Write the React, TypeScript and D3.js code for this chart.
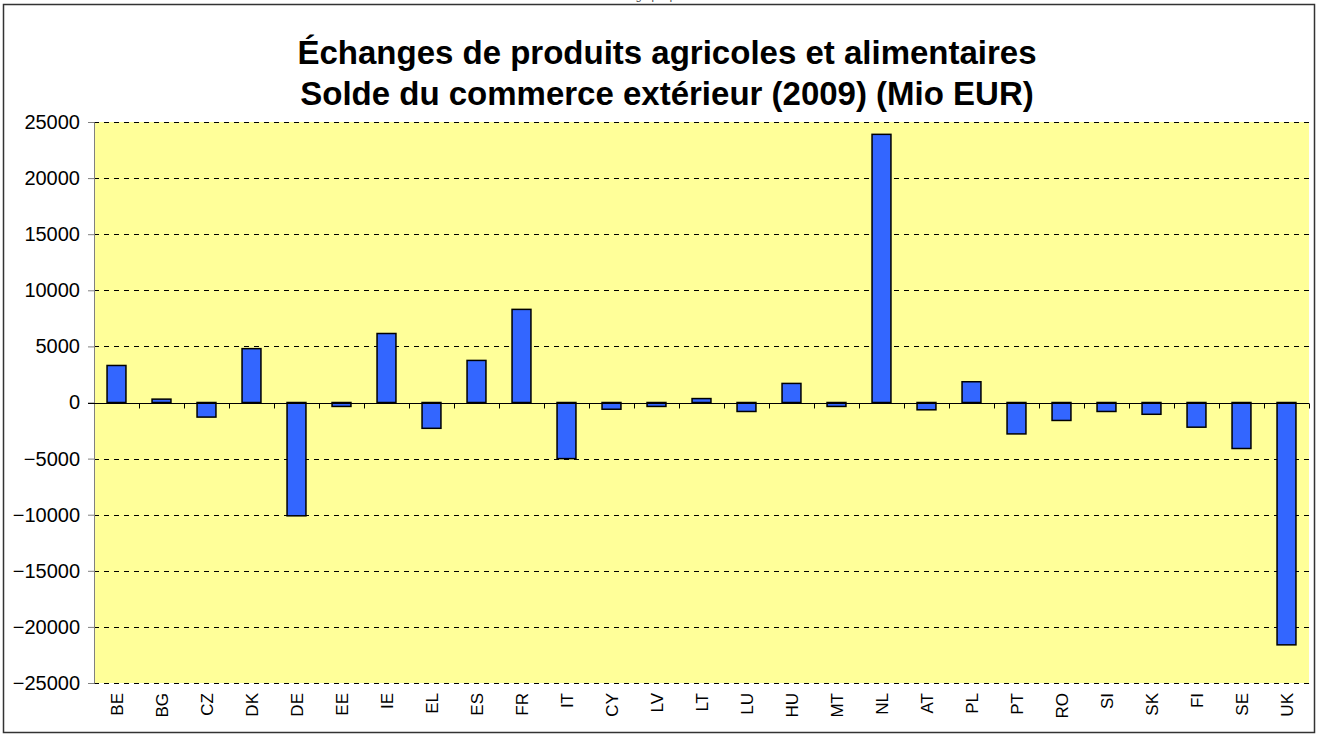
import React, {useEffect, useRef} from 'react'
import * as d3 from 'd3';

const countries = ['BE','BG','CZ','DK','DE','EE','IE','EL','ES','FR','IT','CY','LV','LT','LU','HU','MT','NL','AT','PL','PT','RO','SI','SK','FI','SE','UK'];
const balance = [3300, 300, -1300, 4800, -10100, -350, 6150, -2300, 3750, 8300, -5000, -600, -350, 350, -800, 1700, -350, 23900, -650, 1850, -2800, -1600, -800, -1050, -2200, -4100, -21600];
const yTicks = [-25000, -20000, -15000, -10000, -5000, 0, 5000, 10000, 15000, 20000, 25000];
const titleLines = ['Échanges de produits agricoles et alimentaires', 'Solde du commerce extérieur (2009) (Mio EUR)'];

export default function App(){
    const svgRef = useRef<SVGSVGElement>(null);

    const W = 1319, H = 735;
    const margin = {top: 122, right: 10, left: 94, bottom: 52};
    const width = W - margin.left - margin.right;
    const height = H - margin.top - margin.bottom;
    const font = "'Liberation Sans', Arial, sans-serif";

    useEffect(() => {
        const svg = d3.select(svgRef.current);
        svg.selectAll("*").remove();

        // outer frame
        svg.append('rect')
            .attr('x', 3.5).attr('y', 4.5)
            .attr('width', 1311).attr('height', 728)
            .attr('fill', 'white')
            .attr('stroke', '#333').attr('stroke-width', 1.5);

        // clipped caption at the very top (only its bottom shows, as in the source)
        svg.append('text')
            .attr('x', 660).attr('y', 0)
            .attr('text-anchor', 'middle')
            .attr('font-family', font).attr('font-size', 11)
            .attr('fill', '#444')
            .text('graphique');

        const title = svg.append('text')
            .attr('text-anchor', 'middle')
            .attr('font-family', font)
            .attr('font-weight', 'bold')
            .attr('font-size', 33);
        title.selectAll('tspan')
            .data(titleLines)
            .join('tspan')
            .attr('x', 667)
            .attr('y', (d, i) => 64 + i * 41)
            .text(d => d);

        const xscale = d3.scaleBand()
            .domain(countries)
            .range([0, width])
            .paddingInner(0.58)
            .paddingOuter(0.29);

        const yscale = d3.scaleLinear()
            .domain([-25000, 25000])
            .range([height, 0]);

        const g = svg.append('g')
            .attr('transform', `translate(${margin.left},${margin.top})`);

        g.append('rect')
            .attr('width', width).attr('height', height)
            .attr('fill', '#FFFF99');

        // dashed gridlines
        g.selectAll('line.grid')
            .data(yTicks.filter(d => d !== 0))
            .join('line')
            .attr('class', 'grid')
            .attr('x1', 0).attr('x2', width)
            .attr('y1', d => Math.round(yscale(d)) + 0.5)
            .attr('y2', d => Math.round(yscale(d)) + 0.5)
            .attr('stroke', '#000')
            .attr('stroke-dasharray', '5,5');

        // y axis
        const yaxis = d3.axisLeft(yscale).tickValues(yTicks).tickSize(6).tickPadding(8).tickFormat(d3.format('d'));
        g.append('g')
            .call(yaxis)
            .call(s => s.select('.domain').attr('stroke', '#808080'))
            .call(s => s.selectAll('.tick line').attr('stroke', '#808080'))
            .call(s => s.selectAll('.tick text')
                .attr('font-family', font)
                .attr('font-size', 20)
                .attr('fill', '#000'));

        // bars
        g.selectAll('rect.bar')
            .data(countries)
            .join('rect')
            .attr('class', 'bar')
            .attr('x', d => xscale(d)!)
            .attr('width', xscale.bandwidth())
            .attr('y', (d, i) => yscale(Math.max(0, balance[i])))
            .attr('height', (d, i) => Math.abs(yscale(balance[i]) - yscale(0)))
            .attr('fill', '#3366FF')
            .attr('stroke', '#000')
            .attr('stroke-width', 1.5);

        // category axis at zero
        const step = xscale.step();
        const boundaries = d3.range(countries.length + 1).map(i => i * step);
        const zeroY = Math.round(yscale(0)) + 0.5;
        g.append('line')
            .attr('x1', -6).attr('x2', width)
            .attr('y1', zeroY).attr('y2', zeroY)
            .attr('stroke', '#000');
        g.selectAll('line.xtick')
            .data(boundaries.slice(1))
            .join('line')
            .attr('class', 'xtick')
            .attr('x1', d => Math.round(d) + 0.5).attr('x2', d => Math.round(d) + 0.5)
            .attr('y1', zeroY).attr('y2', zeroY + 5)
            .attr('stroke', '#000');

        // rotated category labels
        g.selectAll('text.xlabel')
            .data(countries)
            .join('text')
            .attr('class', 'xlabel')
            .attr('transform', d => `translate(${xscale(d)! + xscale.bandwidth() / 2 + 6},${height + 10}) rotate(-90)`)
            .attr('text-anchor', 'end')
            .attr('font-family', font)
            .attr('font-size', 17)
            .text(d => d);
    }, []);

    return (
        <svg
            ref={svgRef}
            width={W}
            height={H}
            style={{position: 'absolute', left: 0, top: 0}}
        >
        </svg>
    );
}
